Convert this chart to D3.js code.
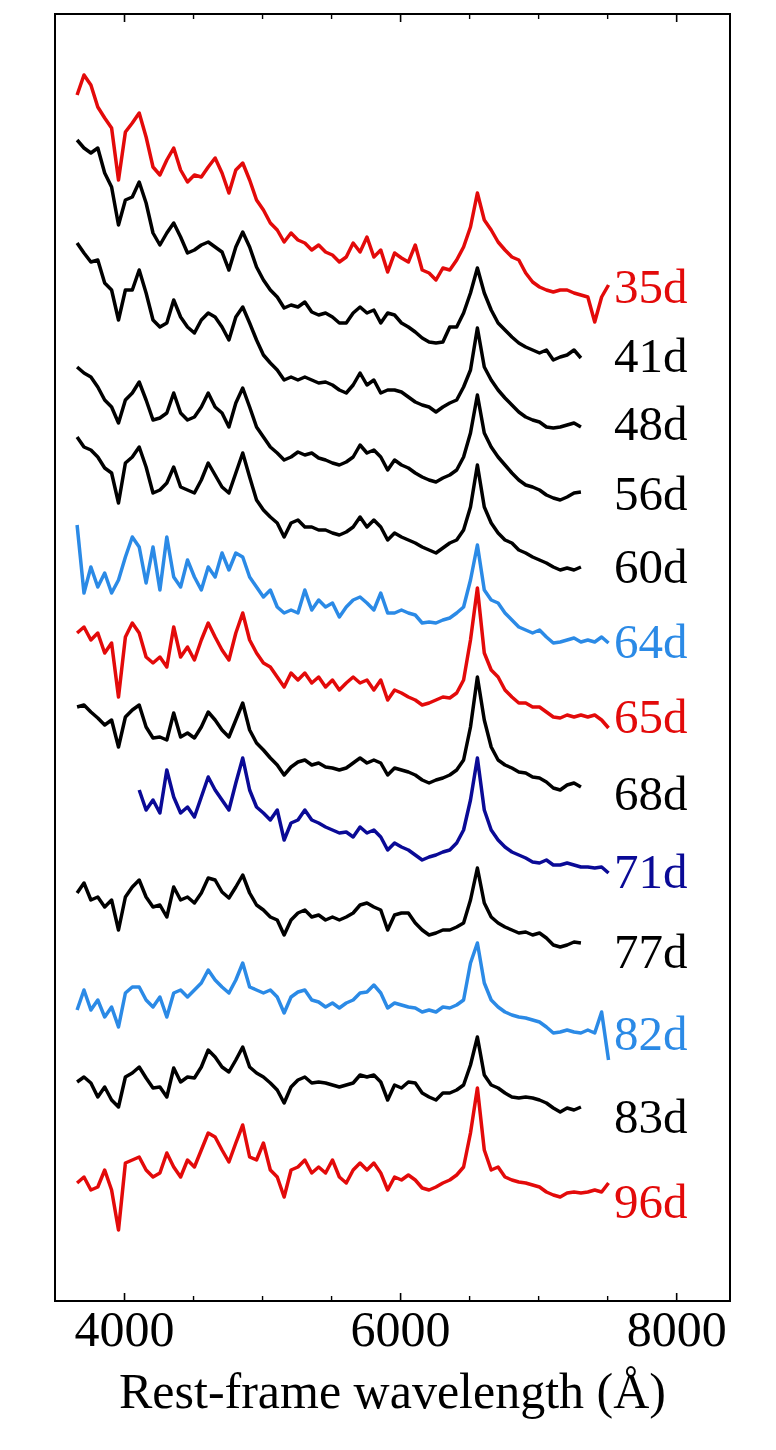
<!DOCTYPE html>
<html><head><meta charset="utf-8">
<script src="https://cdn.jsdelivr.net/npm/d3@7"></script>
<style>body{margin:0;background:#fff;} svg{display:block;}</style>
</head><body><svg id="c" width="776" height="1450"></svg>
<script>
// ---- data ----
const epochs = ["35d","41d","48d","56d","60d","64d","65d","68d","71d","77d","82d","83d","96d"];
const lineColors = ["#e30a0a","#000000","#000000","#000000","#000000","#2b8ae6","#e30a0a","#000000","#0a0a96","#000000","#2b8ae6","#000000","#e30a0a"];
const offsets = [101.1, 94.6, 87.6, 80.6, 73.6, 66.1, 58.6, 51.6, 43.6, 36.1, 27.1, 19.6, 11.1];
const labelLevels = [99.8, 92.9, 86.1, 79.1, 71.8, 64.3, 56.8, 49.1, 41.3, 33.3, 25.1, 16.8, 8.3];
const waveStart = [3660,3660,3660,3660,3660,3660,3660,3660,4110,3660,3660,3660,3660];
const waveStep = 50;
const majorTicks = [4000, 6000, 8000];
const minorTicks = [4500, 5000, 5500, 6500, 7000, 7500];

const f35 = [19.5,21.5,20.5,18.3,17.2,16.2,11.0,15.8,16.7,17.7,15.3,12.3,11.5,13.0,14.2,12.0,10.8,11.5,11.3,12.3,13.2,11.7,9.7,12.0,12.7,11.0,9.0,8.0,6.7,6.0,4.8,5.7,5.0,4.7,4.0,4.5,3.8,3.5,2.8,3.3,4.7,3.8,5.3,3.3,4.0,1.8,3.7,3.2,2.8,4.5,2.0,1.7,1.0,2.2,2.0,3.0,4.3,6.3,9.7,7.0,6.0,4.8,4.0,3.3,3.0,1.7,0.8,0.3,0,-0.2,0,0,-0.3,-0.5,-0.7,-3.2,-0.7,0.5];
const f41 = [21.5,20.7,20.2,20.7,18.2,16.8,13.0,15.5,15.8,17.3,15.2,12.2,11.0,12.2,13.2,11.8,10.2,10.5,11.0,11.3,10.8,10.3,8.5,10.8,12.3,10.8,8.8,7.5,6.5,5.8,4.7,5.0,4.8,5.3,4.3,4.0,4.2,3.8,3.2,3.2,4.2,4.8,4.2,4.5,3.2,4.2,4.0,3.2,2.8,2.3,1.7,1.3,1.2,1.3,2.8,2.8,4.2,6.2,8.7,6.2,4.5,3.2,2.5,1.8,1.2,0.8,0.5,0.2,0.5,-0.5,-0.2,0,0.5,-0.3];
const f48 = [18.2,17.2,16.3,16.5,14.2,13.5,10.5,13.5,13.5,15.5,13.2,10.5,9.8,10.2,12.5,10.8,9.8,9.2,10.5,11.2,10.8,9.8,8.5,10.8,11.8,10.2,8.5,7.0,6.2,5.5,4.5,4.8,4.5,4.8,4.5,4.2,4.3,4.0,3.5,3.2,4.0,5.2,4.0,4.5,3.2,3.5,3.5,3.3,2.8,2.3,2.0,1.8,1.3,1.8,2.2,2.5,3.8,5.5,9.7,5.8,4.5,3.5,2.7,2.0,1.3,0.8,0.5,0.3,-0.2,-0.3,-0.2,0,0.2,-0.2];
const f56 = [12.8,12.2,11.8,10.8,9.5,8.8,7.2,9.5,10.2,11.3,9.5,7.5,7.7,8.2,10.2,8.2,7.5,7.8,8.8,10.2,8.8,8.2,6.8,9.2,10.7,8.8,6.8,5.8,4.8,4.2,3.5,3.8,4.3,4.0,4.2,3.7,3.5,3.2,3.0,3.3,3.8,5.0,4.2,4.5,3.8,2.5,3.5,3.0,2.7,2.2,1.8,1.5,1.3,1.7,2.0,2.5,3.8,6.2,10.0,6.2,4.8,3.8,3.0,2.2,1.5,1.0,0.8,0.5,0,-0.3,-0.5,-0.2,0.2,0.3];
const f60 = [12.8,11.8,11.5,10.8,9.7,9.2,6.2,10.2,10.8,11.8,9.8,7.2,7.5,8.2,9.8,7.8,7.5,7.2,8.5,10.2,9.0,7.8,7.2,9.2,11.2,8.8,6.5,5.5,4.8,4.2,2.8,4.2,4.5,3.8,3.8,3.5,3.5,3.2,3.0,3.3,3.8,4.8,3.8,4.5,3.8,2.5,3.2,2.8,2.5,2.2,1.8,1.5,1.2,1.7,2.2,2.5,3.5,5.8,10.0,5.8,4.2,3.2,2.5,2.2,1.5,1.2,0.8,0.5,0.2,-0.2,-0.5,-0.3,-0.5,-0.2];
const f64 = [11.5,4.7,7.3,5.3,6.7,4.7,6.0,8.3,10.3,9.3,5.7,9.3,5.0,10.3,6.3,5.3,8.0,6.3,5.0,7.3,6.3,8.7,7.0,8.7,8.3,6.3,5.3,4.3,5.0,3.3,2.7,3.0,2.7,5.0,3.0,4.0,3.3,3.7,2.3,3.3,4.0,4.3,3.7,3.0,4.7,2.7,2.7,3.0,2.7,2.5,1.7,1.8,1.7,2.0,2.2,2.7,3.3,6.0,9.5,5.0,4.0,3.7,2.7,2.0,1.3,1.0,0.7,1.0,0.3,-0.3,-0.2,0,0.2,-0.2,0,-0.2,0.3,-0.3];
const f65 = [8.2,8.8,7.5,8.2,6.2,7.2,1.8,7.8,9.2,8.2,5.8,5.2,5.8,4.8,8.8,5.8,6.8,5.5,7.5,9.2,7.8,6.5,5.5,8.2,10.2,7.5,6.2,5.2,4.8,3.8,2.8,4.2,3.5,4.2,3.2,3.8,2.8,3.5,2.5,3.2,3.8,3.2,3.5,2.5,3.5,1.5,2.5,2.2,1.8,1.5,1.0,1.2,1.5,1.8,1.7,2.2,3.5,7.5,12.7,6.2,4.5,3.8,2.5,1.8,1.2,1.2,0.8,0.8,0.3,-0.2,-0.3,0,-0.2,0,-0.2,0,-0.5,-1.3];
const f68 = [7.8,8.0,7.3,6.7,6.0,6.5,3.8,6.8,7.5,8.0,5.8,4.7,4.8,4.5,7.2,4.8,5.2,4.7,5.8,7.3,6.5,5.5,4.8,6.5,8.2,5.5,4.2,3.5,2.7,2.0,1.0,1.8,2.3,2.5,2.0,2.2,1.8,1.7,1.5,1.7,2.2,2.7,2.2,2.5,2.2,1.0,1.7,1.5,1.3,1.0,0.5,0.2,0.5,0.7,1.0,1.5,2.5,5.8,10.8,6.5,3.8,2.5,2.0,1.7,1.3,1.2,0.8,0.7,0.3,-0.3,-0.5,0,0.2,-0.2];
const f71 = [7.5,5.5,6.5,5.2,9.5,6.8,5.2,5.8,4.8,6.8,8.8,7.5,6.5,5.5,8.2,10.7,7.5,5.8,5.2,4.5,5.5,2.5,4.2,4.5,5.5,4.5,4.2,3.8,3.5,3.2,3.3,2.8,3.8,3.2,3.5,2.8,1.5,2.2,1.8,1.5,1.0,0.5,0.8,1.0,1.3,1.5,2.2,3.5,6.5,10.7,5.5,3.5,2.5,1.8,1.3,1.0,0.7,0.3,0.2,0.5,0,0,0.2,0,-0.2,-0.2,-0.3,-0.2,-0.8];
const f77 = [4.7,5.7,4.0,4.3,3.3,4.0,1.0,4.3,5.3,6.0,4.3,3.3,3.5,2.3,5.3,4.0,4.3,3.7,4.7,6.2,6.0,4.8,4.2,5.3,6.5,4.7,3.5,3.0,2.3,2.0,0.5,2.0,2.7,3.0,2.3,2.5,2.0,2.3,2.0,2.3,2.7,3.5,3.7,3.3,3.0,1.0,2.5,2.7,2.7,1.7,1.0,0.5,0.7,1.0,1.0,1.3,1.7,4.0,7.2,3.7,2.3,1.7,1.3,1.0,0.7,0.8,0.5,0.7,0.2,-0.5,-0.7,-0.5,-0.2,-0.3];
const f82 = [2.0,4.0,2.0,3.0,1.3,2.3,0.3,3.7,4.3,4.3,3.0,2.3,3.3,1.3,3.7,4.0,3.3,4.0,4.7,6.0,5.0,4.3,3.7,5.0,6.7,4.3,4.0,3.7,4.0,3.3,1.7,3.3,3.8,4.0,3.0,2.8,2.3,2.7,2.2,2.7,3.0,3.7,3.8,4.5,3.7,2.2,2.7,2.5,2.3,2.2,1.8,2.0,1.8,2.3,2.2,2.5,3.0,6.7,8.7,4.7,3.0,2.3,1.8,1.5,1.3,1.2,1.0,0.8,0.3,-0.3,-0.2,0,-0.2,-0.3,0,-0.3,1.8,-3.0];
const f83 = [2.3,2.8,2.2,0.8,1.8,0.5,-0.2,2.8,3.2,3.8,2.7,1.7,1.8,0.8,3.7,2.3,2.8,2.7,3.8,5.5,4.8,3.8,3.3,4.5,5.8,3.8,3.2,2.8,2.2,1.5,0.2,1.8,2.5,2.8,2.2,2.3,2.2,2.0,1.8,2.0,2.2,3.0,2.8,3.0,2.3,0.5,2.0,1.7,2.3,2.2,1.2,0.8,0.5,1.2,1.2,1.5,2.0,4.0,6.8,3.0,2.0,1.7,1.2,0.8,0.7,0.8,0.7,0.5,0.2,-0.3,-0.7,-0.3,-0.5,-0.2];
const f96 = [0.7,1.3,0,0.3,2.0,0,-4.0,2.7,3.0,3.3,2.0,1.3,1.7,3.7,2.3,1.3,3.0,2.3,4.0,5.7,5.3,4.0,2.8,4.7,6.5,3.3,3.0,4.7,2.0,1.3,-0.7,2.0,2.3,3.0,1.7,2.3,1.7,3.0,1.3,0.7,2.0,2.7,2.0,2.7,1.7,0,1.3,1.0,1.5,1.0,0.2,0,0.3,0.7,1.0,1.5,2.3,5.7,10.2,4.0,2.0,2.3,1.3,1.0,0.8,0.7,0.5,0.3,-0.2,-0.5,-0.7,-0.3,-0.2,-0.3,-0.2,0,-0.2,0.7];
const fluxes = [f35,f41,f48,f56,f60,f64,f65,f68,f71,f77,f82,f83,f96];

// ---- layout ----
const L = 55, R = 730, T = 14, B = 1301;
const svg = d3.select("#c");
const x = d3.scaleLinear().domain([3500, 8390]).range([L, R]);
const y = d3.scaleLinear().domain([0, 128.7]).range([B, T]);
const FONT = "'Liberation Serif','Times New Roman',serif";

// spectra
const line = d3.line().x(d => x(d.w)).y(d => y(d.v));
fluxes.forEach((f, i) => {
  const pts = f.map((v, k) => ({w: waveStart[i] + waveStep * k, v: v + offsets[i]}));
  svg.append("path").datum(pts)
    .attr("d", line)
    .attr("fill", "none")
    .attr("stroke", lineColors[i])
    .attr("stroke-width", 3.5)
    .attr("stroke-linejoin", "round");
});

// epoch labels
svg.selectAll("text.ep").data(epochs).enter().append("text")
  .attr("class", "ep")
  .attr("x", 614)
  .attr("y", (d, i) => y(labelLevels[i]))
  .attr("fill", (d, i) => lineColors[i])
  .style("font-family", FONT)
  .style("font-size", "49px")
  .text(d => d);

// axes (ticks inward, bottom and top)
const gB = svg.append("g").attr("transform", `translate(0,${B})`)
  .call(d3.axisBottom(x).tickValues(majorTicks).tickSize(-8).tickSizeOuter(0).tickPadding(0).tickFormat(d3.format("d")));
gB.select(".domain").remove();
gB.selectAll(".tick line").attr("stroke-width", 1.6);
gB.selectAll(".tick text").attr("dy", null).attr("y", 45)
  .style("font-family", FONT).style("font-size", "50px").attr("fill", "#000");
const gBm = svg.append("g").attr("transform", `translate(0,${B})`)
  .call(d3.axisBottom(x).tickValues(minorTicks).tickSize(-5).tickSizeOuter(0).tickFormat(""));
gBm.select(".domain").remove();
gBm.selectAll(".tick line").attr("stroke-width", 1.4);

const gT = svg.append("g").attr("transform", `translate(0,${T})`)
  .call(d3.axisTop(x).tickValues(majorTicks).tickSize(-8).tickSizeOuter(0).tickFormat(""));
gT.select(".domain").remove();
gT.selectAll(".tick line").attr("stroke-width", 1.6);
const gTm = svg.append("g").attr("transform", `translate(0,${T})`)
  .call(d3.axisTop(x).tickValues(minorTicks).tickSize(-5).tickSizeOuter(0).tickFormat(""));
gTm.select(".domain").remove();
gTm.selectAll(".tick line").attr("stroke-width", 1.4);

// frame
svg.append("rect").attr("x", L).attr("y", T).attr("width", R - L).attr("height", B - T)
  .attr("fill", "none").attr("stroke", "#000").attr("stroke-width", 2);

// axis title
svg.append("text").attr("x", (L + R) / 2).attr("y", 1408).attr("text-anchor", "middle")
  .style("font-family", FONT).style("font-size", "50px").attr("fill", "#000")
  .text("Rest-frame wavelength (Å)");
</script></body></html>
